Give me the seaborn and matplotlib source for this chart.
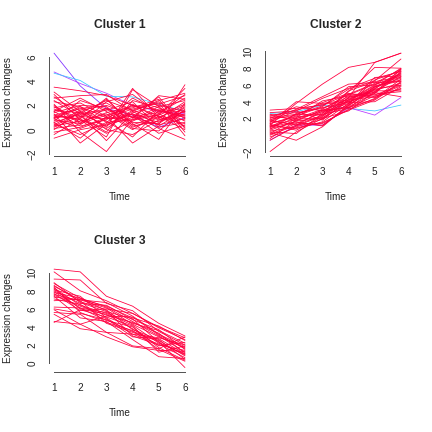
import numpy as np
import pandas as pd
import matplotlib
matplotlib.use("Agg")
import matplotlib.pyplot as plt
import seaborn as sns

time = [1, 2, 3, 4, 5, 6]
titles = ["Cluster 1", "Cluster 2", "Cluster 3"]

# low-membership lines (drawn first)
c1_violet = [6.3, 3.6, 1.75, 1.2, 0.2, 1.0]
c1_purple = [4.75, 3.8, 3.0, 2.0, 1.5, 1.3]
c1_cyan = [4.65, 4.05, 2.75, 2.7, 2.1, 1.5]
c2_cyan = [2.6, 2.8, 3.6, 3.2, 2.9, 3.6]
c2_purple = [-0.6, 1.2, 1.2, 3.3, 2.4, 4.5]

c1_red = [
    [3.5, 3.2, 2.8, 2.0, 1.6, 1.2],
    [3.1, 1.5, 0.2, 3.4, 1.0, 0.5],
    [2.9, 0.8, -0.6, 3.3, 1.9, 0.2],
    [2.6, 2.8, 2.9, 1.5, 0.4, 3.7],
    [2.3, 1.9, 1.0, 0.8, 1.2, 3.4],
    [2.1, -0.2, -1.8, 0.9, 2.8, 2.5],
    [2.0, 0.6, 1.4, 1.9, 2.1, 2.8],
    [1.8, 2.2, 1.1, -1.1, 0.3, 1.6],
    [1.7, 1.0, 2.5, 0.5, -0.8, 2.2],
    [1.6, 1.4, 0.3, 1.6, 2.3, 0.9],
    [1.5, 0.3, 0.8, 2.6, 1.5, 1.1],
    [1.4, 2.0, 1.9, 0.2, 1.0, 2.0],
    [1.3, -1.1, 0.5, 1.3, 0.6, 1.8],
    [1.2, 1.7, 2.2, 1.0, 2.7, 0.1],
    [1.1, 0.9, -0.3, 0.7, 1.7, 1.4],
    [1.0, 1.2, 1.6, 2.3, 0.2, 0.6],
    [0.9, 0.1, 0.9, 1.1, 1.4, 2.6],
    [0.9, 1.8, 0.0, -0.4, 0.8, 1.3],
    [0.8, 0.5, 1.2, 1.8, 2.5, -0.2],
    [0.7, 2.4, 1.7, 0.4, 1.1, 0.8],
    [0.6, 1.3, -0.9, 1.4, 2.0, 1.5],
    [0.5, -0.4, 0.6, 2.1, 0.9, 2.3],
    [0.4, 1.6, 2.0, 1.2, -0.3, 0.4],
    [0.3, 0.7, 1.3, 0.0, 1.3, 2.9],
    [0.2, 1.1, -0.2, 2.4, 1.8, 0.7],
    [0.1, 0.4, 1.8, 0.6, 0.5, 1.9],
    [0.0, 1.5, 0.7, -0.6, 1.6, 1.0],
    [-0.2, 0.2, 1.0, 1.7, 2.2, -0.5],
    [-0.4, 0.9, 2.6, 0.3, 0.7, 1.2],
    [-0.7, 0.0, 0.4, 1.0, 1.2, 2.1],
    [2.4, 1.1, 0.9, 1.3, 0.1, -0.8],
    [1.9, 0.5, 2.3, 2.9, 1.3, 0.3],
    [1.5, 2.6, 1.5, 0.1, -0.1, 1.7],
    [1.2, 0.8, 0.1, 1.5, 2.4, 3.0],
    [2.7, 1.3, 1.7, 1.0, 0.4, 0.9],
    [0.6, -0.7, 1.1, 2.0, 1.1, 0.0],
    [1.0, 1.9, 0.6, 0.8, 1.9, 2.4],
    [0.3, 1.4, 2.4, 1.6, 0.8, 1.5],
]

c2_red = [
    [1.2, 3.8, 6.1, 8.1, 8.7, 9.8],
    [-1.95, 0.4, 2.0, 4.5, 8.7, 9.8],
    [0.0, 1.2, 2.4, 5.2, 8.1, 8.0],
    [1.0, 2.5, 3.5, 5.5, 6.5, 9.1],
    [3.0, 3.2, 3.6, 4.9, 6.2, 7.9],
    [2.7, 2.9, 4.4, 5.6, 6.8, 7.6],
    [1.5, 4.0, 3.8, 4.2, 6.0, 7.3],
    [0.3, -0.6, 1.0, 3.6, 5.5, 7.8],
    [-0.4, 1.8, 3.0, 4.0, 5.2, 7.0],
    [2.2, 2.0, 2.8, 3.8, 5.8, 6.8],
    [1.8, 3.1, 4.6, 6.1, 6.3, 6.4],
    [0.8, 1.5, 1.2, 3.4, 5.0, 7.5],
    [2.4, 2.7, 3.2, 4.6, 4.8, 6.0],
    [1.4, 2.2, 2.5, 3.2, 5.6, 7.2],
    [0.5, 1.0, 1.9, 4.1, 5.9, 6.6],
    [1.9, 2.4, 3.9, 5.0, 4.5, 5.6],
    [-0.2, 0.9, 1.5, 3.0, 4.2, 6.3],
    [1.1, 1.9, 2.1, 3.7, 6.6, 7.7],
    [2.0, 3.4, 2.9, 4.4, 5.3, 5.3],
    [0.7, 2.6, 3.3, 3.9, 4.0, 5.8],
    [1.3, 0.6, 2.2, 4.8, 6.1, 6.9],
    [0.1, 1.4, 2.7, 3.5, 5.7, 7.4],
    [1.6, 2.9, 1.8, 4.3, 5.4, 6.2],
    [2.5, 1.7, 3.0, 3.3, 4.7, 5.5],
    [0.9, 2.1, 4.1, 4.7, 5.1, 4.6],
    [1.7, 1.3, 1.4, 3.1, 4.4, 6.7],
    [0.4, 0.2, 2.6, 5.3, 6.4, 7.0],
    [2.3, 3.0, 3.7, 4.0, 5.0, 7.9],
    [1.0, 1.6, 1.1, 3.6, 5.8, 6.5],
    [-0.6, 1.1, 2.3, 4.2, 4.6, 5.9],
    [1.4, 2.3, 3.4, 5.8, 6.0, 8.0],
    [0.6, 1.7, 2.0, 2.9, 5.2, 7.6],
    [2.1, 2.5, 2.4, 4.5, 5.5, 6.0],
    [1.2, 0.8, 1.6, 3.8, 6.9, 7.1],
    [0.2, 2.0, 3.1, 4.9, 4.9, 5.2],
    [1.8, 1.2, 2.9, 3.3, 4.3, 6.4],
]

c3_red = [
    [10.4, 10.1, 7.4, 6.3, 4.4, 3.0],
    [10.1, 8.0, 6.9, 5.5, 4.0, 2.8],
    [9.3, 9.2, 6.6, 5.8, 3.5, 2.0],
    [8.8, 7.2, 6.2, 4.6, 3.0, 1.2],
    [8.6, 6.8, 5.9, 3.7, 2.6, 0.4],
    [8.5, 7.0, 6.7, 5.2, 3.2, 1.8],
    [8.3, 6.4, 5.5, 4.2, 2.2, 1.0],
    [8.1, 7.4, 5.0, 3.2, 2.8, 2.0],
    [8.0, 6.6, 6.4, 4.8, 3.7, 1.5],
    [7.9, 6.1, 4.7, 4.0, 1.7, 0.3],
    [7.8, 7.2, 5.8, 3.0, 2.0, 1.4],
    [7.7, 5.8, 6.0, 5.5, 3.9, 2.6],
    [7.6, 6.9, 4.4, 3.4, 2.4, -0.5],
    [7.5, 6.3, 5.3, 4.5, 3.3, 1.1],
    [7.4, 5.0, 4.6, 2.6, 0.7, 0.5],
    [7.3, 7.0, 6.1, 4.3, 2.9, 1.7],
    [8.2, 6.0, 5.4, 3.8, 1.9, 2.3],
    [6.2, 6.1, 5.6, 4.4, 3.6, 2.2],
    [6.0, 5.5, 4.8, 3.5, 2.5, 0.8],
    [5.9, 4.3, 5.2, 5.1, 3.1, 1.6],
    [5.6, 5.4, 3.4, 3.2, 2.1, 0.6],
    [5.4, 3.8, 3.4, 1.9, 1.6, 2.9],
    [4.6, 4.3, 2.9, 1.8, 1.4, 1.3],
    [4.5, 5.9, 5.1, 4.1, 1.2, 1.9],
    [8.9, 6.7, 5.7, 4.9, 2.3, 0.9],
    [7.1, 6.5, 4.9, 2.9, 2.7, 1.0],
    [8.4, 5.6, 4.5, 3.6, 1.5, 0.2],
    [6.9, 7.1, 6.3, 5.0, 4.1, 2.5],
]

RED = "#FF0040"
panels = [
    ([(c1_violet, "#7F2FFF"), (c1_purple, "#B83CFF"), (c1_cyan, "#3CC8FF")], c1_red,
     [-2, 0, 2, 4, 6], ["\u22122", "0", "2", "4", "6"]),
    ([(c2_cyan, "#3CC8FF"), (c2_purple, "#B83CFF")], c2_red,
     [-2, 0, 2, 4, 6, 8, 10], ["\u22122", "", "2", "4", "6", "8", "10"]),
    ([], c3_red,
     [0, 2, 4, 6, 8, 10], ["0", "2", "4", "6", "8", "10"]),
]

sns.set_style("white")
plt.rcParams["font.family"] = ["Liberation Sans", "DejaVu Sans"]

fig = plt.figure(figsize=(6, 6), dpi=72)
W = 432.0
positions = [
    (48.8, 155.5),
    (264.8, 155.5),
    (48.8, 371.5),
]
aw, ah = 141.4, 106.3

for i, ((specials, reds, yt, ytl), (lx, by)) in enumerate(zip(panels, positions)):
    ax = fig.add_axes([lx / W, 1 - by / W, aw / W, ah / W])
    rows = []
    uid = 0
    for vals, col in specials:
        for t, v in zip(time, vals):
            rows.append((uid, t, v, col))
        uid += 1
    for vals in reds:
        for t, v in zip(time, vals):
            rows.append((uid, t, v, RED))
        uid += 1
    df = pd.DataFrame(rows, columns=["gene", "time", "value", "col"])
    order = [c for _, c in specials] + [RED]
    for c in order:
        sub = df[df["col"] == c]
        sns.lineplot(data=sub, x="time", y="value", units="gene", estimator=None,
                     color=c, lw=0.8, ax=ax, legend=False, sort=False)
    vmin, vmax = df["value"].min(), df["value"].max()
    pad = 0.04 * (vmax - vmin)
    ax.set_ylim(vmin - pad, vmax + pad)
    ax.set_xlim(0.8, 6.2)
    for s in ["top", "right"]:
        ax.spines[s].set_visible(False)
    for s in ["left", "bottom"]:
        ax.spines[s].set_color("#555555")
        ax.spines[s].set_linewidth(1.0)
    ax.spines["left"].set_bounds(yt[0], yt[-1])
    ax.spines["bottom"].set_bounds(1, 6)
    ax.set_xticks(time)
    ax.set_xticklabels([str(t) for t in time])
    ax.set_yticks(yt)
    ax.set_yticklabels(ytl, rotation=90, va="center")
    ax.tick_params(axis="both", direction="out", length=5.5, width=1.0, color="#555555",
                   labelsize=10, labelcolor="#222222")
    ax.tick_params(axis="x", pad=6)
    ax.tick_params(axis="y", pad=6)
    ax.set_xlabel("Time", fontsize=10, color="#222222")
    ax.xaxis.set_label_coords(0.5, -0.39)
    ax.xaxis.label.set_va("center")
    ax.set_ylabel("Expression changes", fontsize=10, color="#222222")
    ax.yaxis.set_label_coords(-0.289, 0.5)
    ax.yaxis.label.set_va("center")
    ax.set_title(titles[i], fontsize=12, fontweight="bold", y=1.228, va="center", pad=0)
    ax.grid(False)

fig.savefig("out.png", dpi=72, facecolor="white")
